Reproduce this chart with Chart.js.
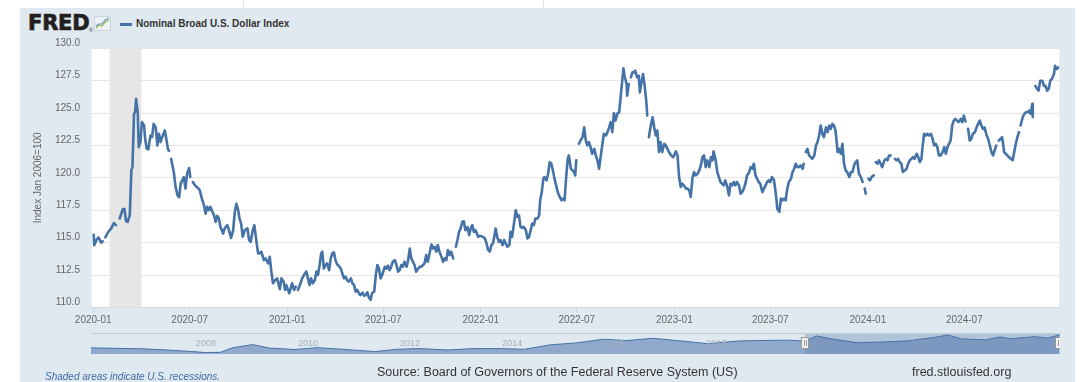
<!DOCTYPE html>
<html><head><meta charset="utf-8">
<script src="https://cdn.jsdelivr.net/npm/chart.js@4.4.1/dist/chart.umd.min.js"></script>
<style>
html,body{margin:0;padding:0;background:#fff;}
#wrap{position:relative;width:1080px;height:382px;overflow:hidden;background:#fff;font-family:"Liberation Sans",Arial,sans-serif;}
#panel{position:absolute;left:20px;top:8px;width:1055px;height:374px;background:#e1e9f0;}
.vline{position:absolute;top:0;width:1px;height:8px;background:#e2e2e2;}
#main{position:absolute;left:0;top:0;}
#nav{position:absolute;left:91px;top:333px;}
#logo{position:absolute;left:28px;top:11px;font-family:"DejaVu Sans",sans-serif;font-weight:bold;font-size:21px;letter-spacing:-0.2px;color:#231f20;-webkit-text-stroke:0.7px #231f20;}
#reg{position:absolute;left:89px;top:27px;font-size:5px;color:#231f20;}
#icon{position:absolute;left:94px;top:16px;}
#legline{position:absolute;left:120px;top:23px;width:12px;height:3px;background:#4572a7;}
#legtext{position:absolute;left:136px;top:18px;font-weight:bold;font-size:10px;color:#333;}
#recnote{position:absolute;left:45px;top:371px;font-style:italic;font-size:10px;color:#3d6aa6;}
#source{position:absolute;left:377px;top:365px;font-size:12.5px;color:#333;}
#site{position:absolute;left:912px;top:365px;font-size:12.5px;color:#333;}
</style></head>
<body>
<div id="wrap">
  <div class="vline" style="left:243px"></div>
  <div class="vline" style="left:543px"></div>
  <div id="panel"></div>
  <div id="logo">FRED</div>
  <div id="reg">®</div>
  <svg id="icon" width="17" height="15" viewBox="0 0 17 15">
    <rect x="0.5" y="0.5" width="16" height="14" fill="#eef2f5" stroke="#c9d3dc"/>
    <polyline points="2,12 5,9 8,10 11,6 15,4" fill="none" stroke="#8cbf5a" stroke-width="1.3"/>
    <polyline points="2,10 5,8 8,8 11,4 15,2" fill="none" stroke="#6f93c4" stroke-width="1.1"/>
  </svg>
  <div id="legline"></div>
  <div id="legtext">Nominal Broad U.S. Dollar Index</div>
  <canvas id="main" width="1080" height="382"></canvas>
  <canvas id="nav" width="969" height="21"></canvas>
  <div id="recnote">Shaded areas indicate U.S. recessions.</div>
  <div id="source">Source: Board of Governors of the Federal Reserve System (US)</div>
  <div id="site">fred.stlouisfed.org</div>
</div>
<script>
// ---------- DATA ----------
const seriesName = 'Nominal Broad U.S. Dollar Index';
const yAxisTitle = 'Index Jan 2006=100';
const tickLabels = ['2020-01','2020-07','2021-01','2021-07','2022-01','2022-07','2023-01','2023-07','2024-01','2024-07'];
const yTicks = [110,112.5,115,117.5,120,122.5,125,127.5,130];
const recessionStart = '2020-02-01';
const recessionEnd = '2020-04-01';
const axisStart = '2019-12-29';
const axisEnd = '2024-12-27';

const obsDates = [
'2020-01-02','2020-01-03','2020-01-07','2020-01-11','2020-01-16','2020-01-19','2020-01-21','2020-01-24','2020-01-29',
'2020-02-04','2020-02-09','2020-02-13','2020-02-17','2020-02-20','2020-02-26','2020-02-29',
'2020-03-03','2020-03-06','2020-03-10','2020-03-13','2020-03-15','2020-03-18','2020-03-20','2020-03-22','2020-03-25','2020-03-27','2020-03-30',
'2020-04-02','2020-04-06','2020-04-08','2020-04-11','2020-04-14','2020-04-18','2020-04-21','2020-04-24','2020-04-28',
'2020-05-01','2020-05-04','2020-05-07','2020-05-10','2020-05-15','2020-05-18','2020-05-21','2020-05-23','2020-05-25','2020-05-27',
'2020-06-01','2020-06-04','2020-06-08','2020-06-11','2020-06-14','2020-06-17','2020-06-20','2020-06-23','2020-06-26','2020-06-30',
'2020-07-02','2020-07-04','2020-07-07','2020-07-11','2020-07-17','2020-07-20','2020-07-24','2020-07-28','2020-07-31',
'2020-08-03','2020-08-06','2020-08-09','2020-08-13','2020-08-16','2020-08-19','2020-08-22','2020-08-25','2020-08-28',
'2020-09-02','2020-09-05','2020-09-10','2020-09-13','2020-09-17','2020-09-21','2020-09-24','2020-09-27','2020-09-30',
'2020-10-03','2020-10-06','2020-10-09','2020-10-13','2020-10-18','2020-10-21','2020-10-24','2020-10-28','2020-10-31',
'2020-11-04','2020-11-07','2020-11-10','2020-11-13','2020-11-18','2020-11-21','2020-11-26','2020-11-29',
'2020-12-02','2020-12-05','2020-12-09','2020-12-13','2020-12-18','2020-12-21','2020-12-25','2020-12-28','2020-12-30',
'2021-01-05','2021-01-10','2021-01-14','2021-01-17','2021-01-19','2021-01-21','2021-01-26','2021-01-29',
'2021-02-03','2021-02-06','2021-02-09','2021-02-12','2021-02-15','2021-02-18','2021-02-22','2021-02-25','2021-02-28',
'2021-03-03','2021-03-06','2021-03-08','2021-03-11','2021-03-14','2021-03-17','2021-03-21','2021-03-24','2021-03-27','2021-03-30',
'2021-04-02','2021-04-05','2021-04-08','2021-04-12','2021-04-15','2021-04-18','2021-04-21','2021-04-24','2021-04-27',
'2021-05-01','2021-05-04','2021-05-07','2021-05-10','2021-05-13','2021-05-16','2021-05-19','2021-05-23','2021-05-26','2021-05-29',
'2021-06-01','2021-06-04','2021-06-07','2021-06-10','2021-06-14','2021-06-17','2021-06-20','2021-06-23','2021-06-26','2021-06-29',
'2021-07-04','2021-07-07','2021-07-10','2021-07-13','2021-07-16','2021-07-19','2021-07-23','2021-07-26','2021-07-29',
'2021-08-01','2021-08-04','2021-08-07','2021-08-10','2021-08-14','2021-08-17','2021-08-20','2021-08-23','2021-08-26','2021-08-29',
'2021-09-01','2021-09-05','2021-09-08','2021-09-11','2021-09-14','2021-09-17','2021-09-20','2021-09-23','2021-09-27','2021-09-30',
'2021-10-03','2021-10-06','2021-10-09','2021-10-12','2021-10-15','2021-10-19','2021-10-22','2021-10-25','2021-10-28','2021-10-31',
'2021-11-03','2021-11-06','2021-11-10','2021-11-12','2021-11-15','2021-11-18','2021-11-21','2021-11-24','2021-11-27','2021-11-30',
'2021-12-03','2021-12-07','2021-12-10','2021-12-13','2021-12-16','2021-12-19','2021-12-22','2021-12-27','2021-12-30','2021-12-31',
'2022-01-02','2022-01-08','2022-01-11','2022-01-15','2022-01-18','2022-01-21','2022-01-24','2022-01-27','2022-01-29',
'2022-02-01','2022-02-04','2022-02-07','2022-02-11','2022-02-14','2022-02-17','2022-02-20','2022-02-24','2022-02-26',
'2022-03-01','2022-03-05','2022-03-08','2022-03-11','2022-03-14','2022-03-17','2022-03-20','2022-03-23','2022-03-27','2022-03-30',
'2022-04-02','2022-04-05','2022-04-08','2022-04-11','2022-04-14','2022-04-18','2022-04-21','2022-04-23','2022-04-26','2022-04-29',
'2022-05-01','2022-05-05','2022-05-08','2022-05-11','2022-05-14','2022-05-17','2022-05-20','2022-05-23','2022-05-27','2022-05-30',
'2022-06-02','2022-06-05','2022-06-08','2022-06-11','2022-06-14','2022-06-16','2022-06-20','2022-06-23','2022-06-26','2022-06-28','2022-06-30',
'2022-07-02','2022-07-05','2022-07-08','2022-07-12','2022-07-15','2022-07-18','2022-07-21','2022-07-24','2022-07-27','2022-07-30',
'2022-08-03','2022-08-06','2022-08-09','2022-08-12','2022-08-15','2022-08-18','2022-08-21','2022-08-25','2022-08-28','2022-08-31',
'2022-09-03','2022-09-06','2022-09-09','2022-09-12','2022-09-16','2022-09-19','2022-09-22','2022-09-25','2022-09-27','2022-09-29',
'2022-10-03','2022-10-04','2022-10-07','2022-10-09','2022-10-11','2022-10-14','2022-10-17','2022-10-19','2022-10-23','2022-10-26','2022-10-28','2022-10-31',
'2022-11-03','2022-11-06','2022-11-09','2022-11-11','2022-11-12','2022-11-14','2022-11-17','2022-11-21','2022-11-24','2022-11-27','2022-11-30',
'2022-12-03','2022-12-06','2022-12-09','2022-12-13','2022-12-16','2022-12-19','2022-12-22','2022-12-26','2022-12-30',
'2023-01-04','2023-01-07','2023-01-10','2023-01-13','2023-01-16','2023-01-19','2023-01-23','2023-01-26','2023-01-29',
'2023-02-01','2023-02-04','2023-02-07','2023-02-10','2023-02-14','2023-02-17','2023-02-20','2023-02-23','2023-02-26',
'2023-03-01','2023-03-04','2023-03-08','2023-03-11','2023-03-14','2023-03-16','2023-03-20','2023-03-23','2023-03-26','2023-03-29',
'2023-04-01','2023-04-04','2023-04-07','2023-04-11','2023-04-14','2023-04-17','2023-04-20','2023-04-23','2023-04-26','2023-04-29',
'2023-05-03','2023-05-06','2023-05-09','2023-05-12','2023-05-15','2023-05-18','2023-05-21','2023-05-25','2023-05-28','2023-05-31',
'2023-06-03','2023-06-06','2023-06-09','2023-06-12','2023-06-16','2023-06-19','2023-06-22','2023-06-25','2023-06-28',
'2023-07-01','2023-07-04','2023-07-08','2023-07-11','2023-07-13','2023-07-14','2023-07-18','2023-07-21','2023-07-24','2023-07-27','2023-07-30',
'2023-08-02','2023-08-05','2023-08-09','2023-08-12','2023-08-15','2023-08-18','2023-08-21','2023-08-24','2023-08-27','2023-08-31',
'2023-09-02','2023-09-03','2023-09-06','2023-09-09','2023-09-12','2023-09-15','2023-09-18','2023-09-22','2023-09-25','2023-09-28',
'2023-10-01','2023-10-04','2023-10-07','2023-10-10','2023-10-14','2023-10-17','2023-10-20','2023-10-23','2023-10-26','2023-10-29',
'2023-11-01','2023-11-05','2023-11-08','2023-11-11','2023-11-14','2023-11-17','2023-11-20','2023-11-23','2023-11-27','2023-11-30',
'2023-12-03','2023-12-06','2023-12-09','2023-12-12','2023-12-15','2023-12-19','2023-12-22','2023-12-24','2023-12-26','2023-12-28','2023-12-30',
'2024-01-02','2024-01-05','2024-01-08','2024-01-12','2024-01-14','2024-01-16','2024-01-19','2024-01-22','2024-01-25','2024-01-28',
'2024-02-01','2024-02-04','2024-02-07','2024-02-10','2024-02-13','2024-02-16','2024-02-21','2024-02-24','2024-02-27',
'2024-03-01','2024-03-04','2024-03-07','2024-03-11','2024-03-14','2024-03-17','2024-03-20','2024-03-23','2024-03-26','2024-03-29',
'2024-04-02','2024-04-05','2024-04-08','2024-04-11','2024-04-13','2024-04-16','2024-04-19','2024-04-22','2024-04-25','2024-04-29',
'2024-05-02','2024-05-05','2024-05-08','2024-05-11','2024-05-14','2024-05-17','2024-05-21','2024-05-24','2024-05-27','2024-05-30',
'2024-06-02','2024-06-05','2024-06-08','2024-06-11','2024-06-14','2024-06-17','2024-06-20','2024-06-24','2024-06-27','2024-06-30',
'2024-07-03','2024-07-05','2024-07-08','2024-07-11','2024-07-14','2024-07-17','2024-07-21','2024-07-24','2024-07-27','2024-07-30',
'2024-08-02','2024-08-05','2024-08-08','2024-08-12','2024-08-15','2024-08-18','2024-08-21','2024-08-24','2024-08-27','2024-08-30',
'2024-09-02','2024-09-04','2024-09-07','2024-09-10','2024-09-12','2024-09-14','2024-09-17','2024-09-20','2024-09-23','2024-09-27','2024-09-30',
'2024-10-03','2024-10-06','2024-10-09','2024-10-12','2024-10-14','2024-10-15','2024-10-19','2024-10-22','2024-10-25','2024-10-28','2024-10-31',
'2024-11-03','2024-11-06','2024-11-07','2024-11-09','2024-11-12','2024-11-15','2024-11-18','2024-11-21','2024-11-25','2024-11-28',
'2024-12-01','2024-12-04','2024-12-07','2024-12-10','2024-12-13','2024-12-17','2024-12-19','2024-12-22','2024-12-25'
];
const obsValues = [
115.6,114.8,115.2,115.4,115.0,115.1,null,115.4,115.8,
116.1,116.5,116.35,null,116.86,117.6,117.6,
116.65,116.6,117.1,120.6,120.8,124.94,125.06,126.1,125.06,122.37,122.76,
124.3,124.04,123.0,122.24,122.2,123.27,123.14,124.17,123.9,
122.5,123.4,122.76,123.14,123.65,123.0,122.2,122.1,null,121.47,
120.45,119.4,118.65,118.5,119.55,119.8,120.06,119.17,120.3,120.76,
120.06,null,119.68,119.42,119.2,119.04,118.4,117.88,117.24,
117.76,117.5,117.76,117.37,117.1,116.6,117.06,116.86,116.2,
115.7,116.1,116.35,115.96,115.37,115.96,117.37,118.0,117.6,
116.86,116.47,115.45,115.96,116.1,115.2,115.06,115.96,116.35,
115.06,114.17,114.17,114.3,113.65,113.78,113.4,113.9,
112.76,111.86,112.1,112.24,111.4,112.24,112.0,111.35,111.73,
111.09,111.86,111.35,111.6,null,111.35,111.86,112.24,
112.6,112.76,112.24,111.73,112.24,111.86,112.1,112.76,112.5,
113.27,114.17,114.3,113.0,113.27,113.4,112.88,113.78,114.17,114.24,
113.65,113.32,113.22,113.0,112.6,112.24,112.37,112.1,111.99,
112.24,111.86,111.73,111.22,111.35,111.09,110.95,111.15,110.9,110.96,
111.17,110.76,110.58,111.09,111.22,112.5,113.27,113.0,112.24,112.5,
113.14,113.0,113.22,112.88,113.14,113.52,113.65,113.27,112.76,
112.88,113.27,113.14,113.52,113.14,113.65,114.55,113.78,113.52,113.27,
112.76,113.0,113.14,113.14,113.27,113.4,114.04,113.52,114.3,114.86,
114.55,114.68,114.3,114.81,114.3,113.9,113.52,113.78,113.65,114.42,
114.04,114.3,113.78,null,114.68,115.2,115.83,116.09,116.6,116.65,
115.96,116.2,115.58,116.09,116.35,115.83,115.96,115.45,115.53,null,
115.5,115.37,115.06,114.42,114.3,114.81,114.94,115.58,116.09,
115.45,115.06,115.2,114.81,115.2,114.94,114.68,114.81,115.83,
115.45,116.6,117.5,116.99,117.1,116.22,116.14,116.22,115.96,115.32,
115.45,115.96,116.47,116.35,116.86,116.86,117.1,118.27,118.9,119.94,
120.06,119.81,120.32,121.22,121.09,120.58,119.94,119.42,118.78,118.53,
118.27,118.4,118.27,120.06,121.47,121.73,120.7,120.58,120.45,120.19,121.35,
null,122.63,122.88,123.14,123.9,122.88,122.5,122.76,122.37,121.86,
122.24,121.73,121.35,120.7,121.6,122.5,123.4,123.27,123.53,123.9,
124.3,123.53,125.0,124.42,125.0,125.06,126.35,127.63,128.45,127.88,
127.24,126.35,127.24,null,127.76,128.14,128.14,128.27,127.76,127.88,126.6,127.37,
128.01,127.1,125.96,124.81,null,123.14,123.9,124.68,123.9,123.27,123.65,
121.99,122.76,121.99,122.63,122.5,122.24,121.99,121.73,121.6,
122.04,121.73,120.06,119.3,119.55,119.42,119.17,119.17,119.04,
118.53,119.94,120.45,120.19,120.32,120.58,120.96,121.6,121.73,
120.83,121.35,120.83,121.6,121.35,122.04,121.35,120.45,120.06,119.68,
119.55,119.42,119.81,119.3,118.65,119.55,119.42,119.68,119.42,119.68,
119.42,118.78,118.9,119.17,119.55,120.19,120.32,120.83,120.7,121.09,
120.19,119.94,119.68,119.55,118.9,119.17,119.42,119.68,119.81,
119.68,120.06,119.81,118.9,118.14,117.63,117.37,118.4,118.27,118.4,118.27,
119.17,119.68,119.94,120.45,120.7,121.09,120.83,120.83,120.96,120.7,
121.09,null,121.99,122.24,121.73,121.6,121.47,121.73,122.5,122.76,
123.27,124.04,123.4,123.14,123.9,123.53,124.04,123.78,124.17,124.04,
123.65,121.99,122.24,121.86,122.63,121.09,120.58,120.45,120.06,120.45,
120.45,120.96,121.22,121.35,120.32,120.06,119.68,null,119.17,118.78,null,
119.94,119.81,120.06,120.19,null,121.22,121.09,121.35,121.09,120.83,
121.35,121.47,121.35,121.73,121.73,null,121.47,121.35,121.47,
121.22,121.09,120.45,120.58,120.7,121.09,121.35,121.47,121.6,121.47,
121.86,121.6,121.22,121.47,122.37,123.4,123.27,123.4,123.27,123.4,
123.0,122.5,122.63,122.37,121.73,121.73,121.99,122.37,121.86,122.37,
122.63,122.88,124.04,124.42,124.55,124.42,124.3,124.55,124.3,124.81,
124.35,null,123.78,122.88,123.0,123.4,123.53,123.9,124.17,124.42,
124.04,123.78,123.9,123.27,123.0,122.5,121.99,121.73,122.11,122.5,
null,122.88,123.0,123.14,122.63,121.99,121.86,121.73,121.6,121.47,121.35,
121.99,122.63,123.14,123.53,null,124.04,124.68,124.94,125.06,125.06,125.19,
124.94,125.71,124.7,null,127.1,126.86,126.73,127.5,127.5,127.1,
127.1,126.73,126.86,127.5,127.63,128.01,128.65,128.4,128.52
];

// navigator (full history, coarse reading of the mini chart)
const navDates = ['2006-01-02','2006-07-01','2007-01-01','2007-07-01','2008-01-01','2008-04-01','2008-07-15','2008-10-15','2009-03-05','2009-07-01','2010-01-01','2010-06-07','2011-01-01','2011-07-27','2012-01-01','2012-06-01','2013-01-01','2013-07-01','2014-01-01','2014-07-01','2015-01-01','2015-07-01','2016-01-20','2016-07-01','2017-01-01','2017-07-01','2018-02-01','2018-09-01','2019-01-01','2019-09-01','2020-01-02','2020-03-22','2020-07-01','2021-01-05','2021-07-01','2022-01-02','2022-07-01','2022-10-17','2023-01-16','2023-07-14','2023-10-26','2024-01-02','2024-06-30','2024-09-30','2024-12-25'];
const navValues = [100.5,99.5,98.5,96,92.5,90.5,91,101,107.5,100,97,101,97,92.5,97.5,99,96,99,99,97.5,107,111,119,116,121,116,109.5,115,116,117,115,126,120,111.5,113,115.5,122.5,128,120,117.5,124,120,124.5,121.5,128.5];
const navLabels = ['2008','2010','2012','2014','2016','2018','2020','2022','2024'];
const navSelectStart = '2019-12-29';

// ---------- HELPERS ----------
const DAY = 86400000, T0 = Date.UTC(2020,0,1);
function toDay(s){const p=s.split('-').map(Number);return (Date.UTC(p[0],p[1]-1,p[2]||1)-T0)/DAY;}
const FONT = '"Liberation Sans", Arial, sans-serif';
const LINE = '#4572a7';

const points = obsDates.map((d,i)=>({x:toDay(d), y:obsValues[i]}));

const mainPlugin = {
  id:'fredMain',
  beforeDraw(c){
    const a=c.chartArea, g=c.ctx; g.save();
    g.fillStyle='#ffffff'; g.fillRect(a.left,a.top,a.right-a.left,a.bottom-a.top);
    g.restore();
  },
  beforeDatasetsDraw(c){
    const a=c.chartArea, g=c.ctx, xs=c.scales.x; g.save();
    const x1=xs.getPixelForValue(toDay(recessionStart)), x2=xs.getPixelForValue(toDay(recessionEnd));
    g.fillStyle='#e6e6e6'; g.fillRect(x1,a.top,x2-x1,a.bottom-a.top);
    g.restore();
  },
  afterDraw(c){
    const a=c.chartArea, g=c.ctx; g.save();
    g.translate(38,(a.top+a.bottom)/2); g.rotate(-Math.PI/2);
    g.fillStyle='#666'; g.font='10px '+FONT; g.textAlign='center'; g.textBaseline='middle';
    g.fillText(yAxisTitle,0,0); g.restore();
  }
};

new Chart(document.getElementById('main'), {
  type:'line',
  data:{datasets:[{label:seriesName,data:points,borderColor:LINE,borderWidth:2.6,pointRadius:0,tension:0,spanGaps:false,borderJoinStyle:'round',borderCapStyle:'round'}]},
  options:{
    responsive:false, animation:false, events:[],
    layout:{padding:{left:0,top:48.3,right:20.7,bottom:54.6}},
    plugins:{legend:{display:false},tooltip:{enabled:false}},
    scales:{
      x:{type:'linear',min:toDay(axisStart)+0.2,max:toDay(axisEnd),
         afterBuildTicks:s=>{s.ticks=tickLabels.map(l=>({value:toDay(l+'-01')}));},
         afterFit:s=>{s.height=20;},
         ticks:{autoSkip:false,maxRotation:0,minRotation:0,padding:1.5,color:'#666',font:{size:10,family:FONT},callback:(v,i)=>tickLabels[i]},
         grid:{drawOnChartArea:false,drawTicks:true,tickLength:5,color:'#ccd6eb'},
         border:{display:true,color:'#ccd6eb'}},
      y:{min:110,max:130,
         afterBuildTicks:s=>{s.ticks=yTicks.map(v=>({value:v}));},
         afterFit:s=>{s.width=91.7;},
         ticks:{padding:11.7,labelOffset:-5,color:'#666',font:{size:10,family:FONT},callback:v=>Number(v).toFixed(1)},
         grid:{color:'#e6e6e6',drawTicks:false},
         border:{display:false}}
    }
  },
  plugins:[mainPlugin]
});

// ---------- NAVIGATOR ----------
const navPoints = navDates.map((d,i)=>({x:toDay(d),y:navValues[i]}));
const navPlugin = {
  id:'fredNav',
  afterDatasetsDraw(c){
    const a=c.chartArea, g=c.ctx, xs=c.scales.x; g.save();
    g.fillStyle='#a3afbd'; g.font='9px '+FONT; g.textBaseline='middle'; g.textAlign='left';
    navLabels.forEach(l=>{const x=xs.getPixelForValue(toDay(l+'-01-01')); g.fillText(l,x+3,a.top+a.height*0.5);});
    const s1=xs.getPixelForValue(toDay(navSelectStart)), s2=a.right-1;
    g.fillStyle='rgba(69,114,167,0.3)'; g.fillRect(s1,a.top,s2-s1,a.bottom-a.top);
    g.strokeStyle='#c3ccd6'; g.lineWidth=1;
    g.beginPath(); g.moveTo(a.left,a.top+0.5); g.lineTo(a.right,a.top+0.5); g.stroke();
    [s1,s2].forEach(x=>{
      const rx=Math.round(x);
      g.fillStyle='#f2f2f2'; g.strokeStyle='#999'; g.fillRect(rx-3.5,a.top+4.5,7,11); g.strokeRect(rx-3.5,a.top+4.5,7,11);
      g.beginPath(); g.moveTo(rx-0.5,a.top+7); g.lineTo(rx-0.5,a.top+13); g.moveTo(rx+1.5,a.top+7); g.lineTo(rx+1.5,a.top+13); g.stroke();
    });
    g.restore();
  }
};
new Chart(document.getElementById('nav'), {
  type:'line',
  data:{datasets:[{data:navPoints,borderColor:LINE,borderWidth:1,pointRadius:0,tension:0,fill:'start',backgroundColor:'rgba(90,125,178,0.6)'}]},
  options:{
    responsive:false, animation:false, events:[],
    layout:{padding:0},
    plugins:{legend:{display:false},tooltip:{enabled:false}},
    scales:{x:{type:'linear',display:false,min:toDay('2006-01-02'),max:toDay(axisEnd)},
            y:{display:false,min:87.4,max:132.3}}
  },
  plugins:[navPlugin]
});
</script>
</body></html>
